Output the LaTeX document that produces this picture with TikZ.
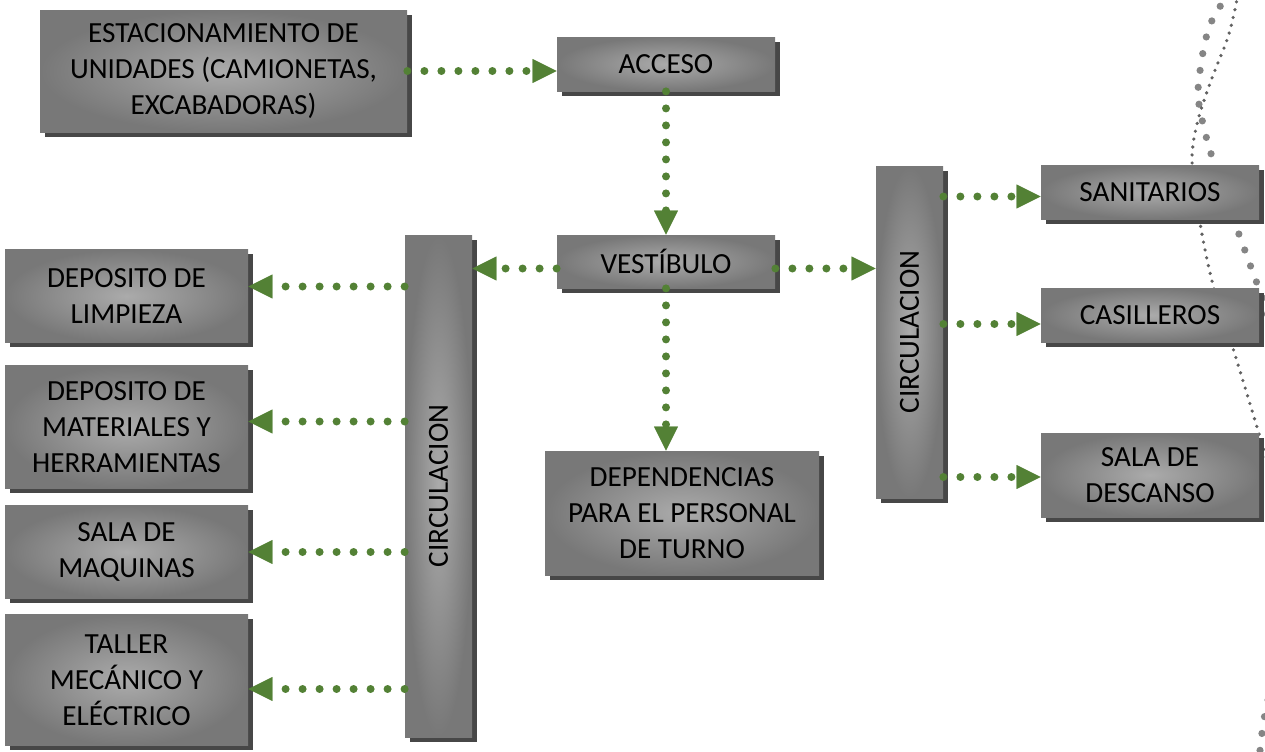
\documentclass[tikz,border=0pt]{standalone}
\usepackage{fontspec}
\setmainfont{Carlito}
\usepackage{tikz}
\usetikzlibrary{arrows.meta,positioning,shadows}
\definecolor{flowgreen}{HTML}{538135}
\definecolor{dotgrey}{HTML}{858585}

\begin{document}
\begin{tikzpicture}[x=0.5pt, y=-0.5pt,
  every node/.style={font=\fontsize{14.6}{18}\selectfont, align=center, inner sep=0pt},
  box/.style={inner color=black!33, outer color=black!53,
    general shadow={fill=black!72, shadow xshift=2.3pt, shadow yshift=-2.3pt}},
  flow/.style={draw=flowgreen, line width=4pt, line cap=round, dash pattern=on 0pt off 8.5pt,
    -{Triangle[length=12pt,width=12pt,line width=0.1pt]}}]
\useasboundingbox (0,0) rectangle (1265,751);

% dotted curves at the right edge
\draw[dotgrey, line width=3.6pt, line cap=round, dash pattern=on 0pt off 8.5pt]
  plot[smooth] coordinates {(1232,-6) (1216,12) (1205,42) (1198,91) (1203,124) (1212,157) (1226,200) (1240,237) (1252,270) (1263,300) (1272,330)};
\draw[dotgrey, line width=3.6pt, line cap=round, dash pattern=on 0pt off 8.5pt]
  plot[smooth] coordinates {(1268,700) (1263,725) (1259,760)};
\draw[black!62, line width=1.8pt, line cap=round, dash pattern=on 0pt off 4pt]
  plot[smooth] coordinates {(1238,-6) (1234,14) (1227,40) (1212,78) (1198,120) (1192,160) (1200,223) (1213,285) (1232,345) (1257,427) (1270,470)};

\node[box, minimum width=183.5pt, minimum height=61pt] (est) at (223.5,71)
  {ESTACIONAMIENTO DE\\UNIDADES (CAMIONETAS,\\EXCABADORAS)};
\node[box, minimum width=109pt, minimum height=27pt] (acc) at (666,64) {ACCESO};
\node[box, minimum width=109pt, minimum height=26.5pt] (vest) at (666,261.5) {VESTÍBULO};
\node[box, minimum width=137pt, minimum height=62pt] (dep) at (682,513)
  {DEPENDENCIAS\\PARA EL PERSONAL\\DE TURNO};
\node[box, minimum width=33.5pt, minimum height=251pt] (circL) at (438.5,486) {\rotatebox{90}{CIRCULACION}};
\node[box, minimum width=33.5pt, minimum height=166pt] (circR) at (909.5,332) {\rotatebox{90}{CIRCULACION}};

\foreach \n/\y/\h/\dy/\txt in {dl/296/46.5pt/4.75pt/{DEPOSITO DE\\LIMPIEZA},
    dm/427/61.5pt/2.75pt/{DEPOSITO DE\\MATERIALES Y\\HERRAMIENTAS},
    sm/552/46.5pt/0pt/{SALA DE\\MAQUINAS},
    tm/680/65.5pt/-4.5pt/{TALLER\\MECÁNICO Y\\ELÉCTRICO}} {
  \node[box, minimum width=121.5pt, minimum height=\h] (\n) at (126.5,\y) {\txt};
  \draw[flow] ([yshift=\dy]circL.west |- \n.east) -- ([yshift=\dy]\n.east);
}

\foreach \n/\y/\h/\dy/\txt in {san/192/27pt/-2.25pt/SANITARIOS,
    cas/315/27pt/-4.5pt/CASILLEROS,
    sal/475/42pt/-1pt/{SALA DE\\DESCANSO}} {
  \node[box, minimum width=109pt, minimum height=\h] (\n) at (1150,\y) {\txt};
  \draw[flow] ([yshift=\dy]circR.east |- \n.west) -- ([yshift=\dy]\n.west);
}

\draw[flow] (est.east) -- (est.east -| acc.west);
\draw[flow] (acc.south) -- (vest.north);
\draw[flow] ([yshift=-3.5pt]vest.west) -- ([yshift=-3.5pt]vest.west -| circL.east);
\draw[flow] ([yshift=-3.5pt]vest.east) -- ([yshift=-3.5pt]vest.east -| circR.west);
\draw[flow] (vest.south) -- (vest.south |- dep.north);
\end{tikzpicture}
\end{document}
